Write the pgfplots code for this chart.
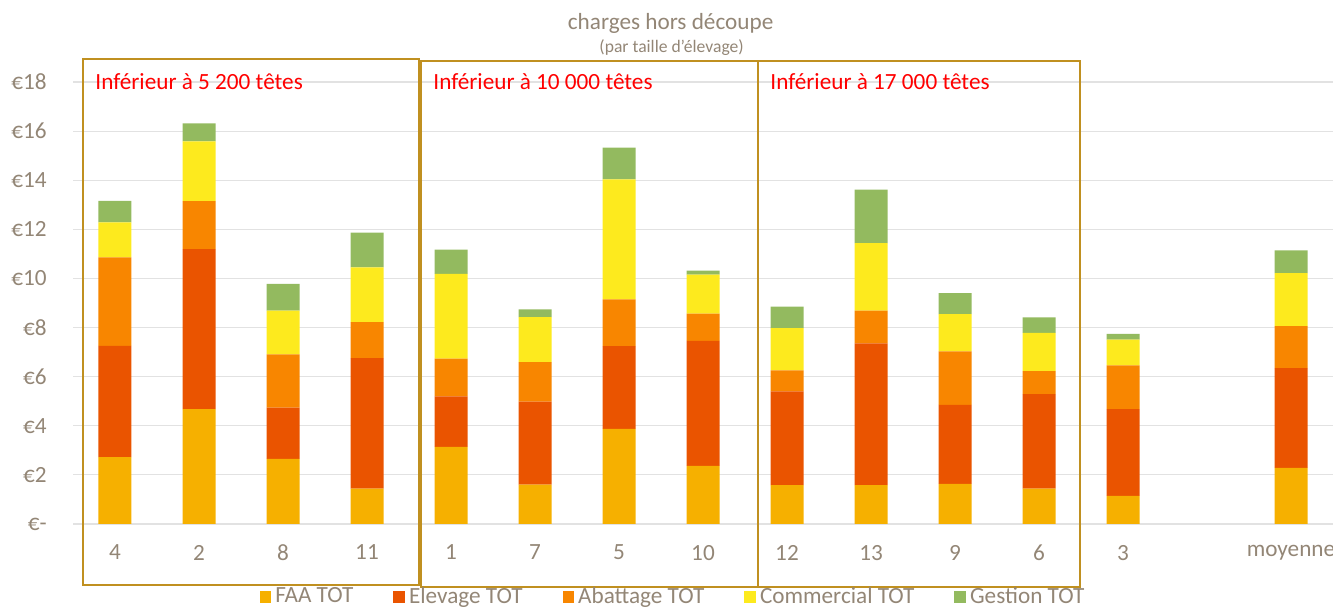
\documentclass[border=0pt]{standalone}
\usepackage{fontspec}
\setmainfont{Carlito}
\usepackage{pgfplots}
\usepackage{pgfplotstable}
\pgfplotsset{compat=1.18}

\definecolor{faa}{HTML}{F6B000}
\definecolor{elev}{HTML}{EA5400}
\definecolor{abat}{HTML}{F88600}
\definecolor{comm}{HTML}{FDEA1E}
\definecolor{gest}{HTML}{93BA5F}
\definecolor{boxc}{HTML}{C09020}
\definecolor{txt}{HTML}{938676}
\definecolor{gridc}{HTML}{E2E2E2}

\pgfplotstableread{
x  faa  elev abat comm gest
0  2.72 4.53 3.61 1.42 0.88
1  4.68 6.51 1.96 2.43 0.73
2  2.65 2.09 2.17 1.78 1.09
3  1.44 5.31 1.47 2.23 1.42
4  3.14 2.06 1.53 3.46 0.98
5  1.60 3.38 1.61 1.83 0.32
6  3.87 3.37 1.91 4.88 1.30
7  2.37 5.09 1.11 1.59 0.16
8  1.58 3.82 0.86 1.72 0.87
9  1.58 5.78 1.33 2.75 2.18
10 1.63 3.22 2.18 1.52 0.85
11 1.44 3.85 0.94 1.55 0.63
12 1.15 3.53 1.78 1.05 0.23
14 2.29 4.06 1.71 2.16 0.92
}\charges

\newcommand\lbl{\fontsize{11.6}{13}\selectfont}

\begin{document}
\begin{tikzpicture}
\begin{axis}[
    scale only axis,
    width=630pt, height=221pt,
    xmin=-0.5, xmax=14.5, ymin=0, ymax=18,
    ybar stacked, bar width=16.5pt,
    axis line style={draw=none},
    major tick length=0pt,
    ymajorgrids, grid style={draw=gridc, line width=0.6pt},
    ytick={0,2,4,6,8,10,12,14,16,18},
    yticklabels={€-,€2,€4,€6,€8,€10,€12,€14,€16,€18},
    xtick={0,1,2,3,4,5,6,7,8,9,10,11,12,14},
    xticklabels={4,2,8,11,1,7,5,10,12,13,9,6,3,moyenne},
    tick label style={font=\lbl, text=txt},
    yticklabel style={xshift=-9.6pt},
    xticklabel style={yshift=-7pt},
    clip=false,
    legend style={at={(0.477,-0.165)}, anchor=center, draw=none, fill=none,
        font=\lbl, text=txt, legend columns=-1,
        /tikz/every even column/.append style={column sep=18pt}},
    barsq/.style={fill=#1, draw=none,
        legend image code/.code={\fill[#1] (0pt,-2.9pt) rectangle (5.8pt,2.9pt);}},
]
  \addplot[barsq=faa]  table[x=x, y=faa]  {\charges};
  \addplot[barsq=elev] table[x=x, y=elev] {\charges};
  \addplot[barsq=abat] table[x=x, y=abat] {\charges};
  \addplot[barsq=comm] table[x=x, y=comm] {\charges};
  \addplot[barsq=gest] table[x=x, y=gest] {\charges};
  \legend{FAA TOT, Elevage TOT, Abattage TOT, Commercial TOT, Gestion TOT}

  % group frames
  \draw[boxc, line width=1pt] (axis cs:-0.38,-2.48) rectangle (axis cs:3.62,18.93);
  \draw[boxc, line width=1pt] (axis cs:3.64,-2.57) rectangle (axis cs:7.65,18.85);
  \draw[boxc, line width=1pt] (axis cs:7.66,-2.57) rectangle (axis cs:11.49,18.85);
  \node[anchor=west, inner sep=0pt, text=red, font=\lbl] at (axis cs:-0.238,18.0) {Inférieur à 5 200 têtes};
  \node[anchor=west, inner sep=0pt, text=red, font=\lbl] at (axis cs:3.786,18.0) {Inférieur à 10 000 têtes};
  \node[anchor=west, inner sep=0pt, text=red, font=\lbl] at (axis cs:7.798,18.0) {Inférieur à 17 000 têtes};
\end{axis}
\node[text=txt, font=\lbl, inner sep=0pt] at (298.8pt,250.2pt) {charges hors découpe};
\node[text=txt, font=\fontsize{8.8}{10}\selectfont, inner sep=0pt] at (299.3pt,238.4pt) {(par taille d'élevage)};
\pgfresetboundingbox
\useasboundingbox (-36.5pt,-42pt) rectangle (630pt,262pt);
\end{tikzpicture}
\end{document}
